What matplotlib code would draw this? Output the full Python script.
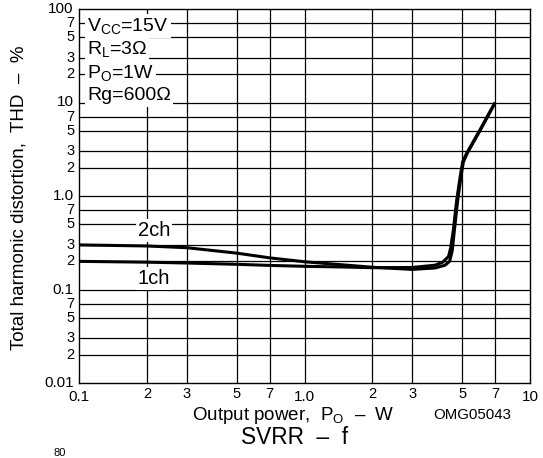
import matplotlib
matplotlib.use("Agg")
import matplotlib.pyplot as plt
from matplotlib.ticker import NullFormatter, NullLocator

plt.rcParams['font.family'] = ['Liberation Sans', 'DejaVu Sans']
plt.rcParams['mathtext.fontset'] = 'custom'
plt.rcParams['mathtext.rm'] = 'Liberation Sans'
plt.rcParams['mathtext.it'] = 'Liberation Sans:italic'

# curve data (Po in W, THD in %)
po_1ch = [0.1, 0.2, 0.3, 0.5, 0.7, 1.0, 1.5, 2.0, 3.0, 3.8, 4.1, 4.35, 4.45,
          4.57, 4.73, 4.9, 5.03, 5.24, 6.0, 7.0]
thd_1ch = [0.200, 0.196, 0.192, 0.186, 0.181, 0.177, 0.174, 0.171, 0.172,
           0.182, 0.196, 0.225, 0.28, 0.43, 0.9, 1.6, 2.33, 2.87, 5.1, 10.0]
po_2ch = [0.1, 0.2, 0.3, 0.5, 0.7, 1.0, 1.5, 2.0, 3.0, 3.8, 4.2, 4.4, 4.52,
          4.63, 4.78, 4.93, 5.06, 5.26, 6.0, 7.0]
thd_2ch = [0.30, 0.292, 0.28, 0.245, 0.218, 0.198, 0.183, 0.173, 0.164,
           0.170, 0.182, 0.2, 0.26, 0.45, 0.9, 1.55, 2.3, 2.85, 5.0, 9.9]

x_major = [0.1, 1.0, 10]
x_major_labels = ["0.1", "1.0", "10"]
x_minor = [0.2, 0.3, 0.5, 0.7, 2, 3, 5, 7]
x_minor_labels = ["2", "3", "5", "7", "2", "3", "5", "7"]
y_major = [0.01, 0.1, 1.0, 10, 100]
y_major_labels = ["0.01", "0.1", "1.0", "10", "100"]
y_minor = [m * d for d in [0.01, 0.1, 1, 10] for m in (2, 3, 5, 7)]
y_minor_labels = ["2", "3", "5", "7"] * 4

conditions = [r"V$_{\mathrm{CC}}$=15V", r"R$_{\mathrm{L}}$=3Ω",
              r"P$_{\mathrm{O}}$=1W", "Rg=600Ω"]

fig = plt.figure(figsize=(5.43, 4.58), dpi=100)
ax = fig.add_axes([79 / 543, 1 - 383 / 458, 451 / 543, 374 / 458])
ax.set_xscale('log')
ax.set_yscale('log')
ax.set_xlim(0.1, 10)
ax.set_ylim(0.01, 100)

# grid
for v in x_minor + [1.0]:
    ax.axvline(v, color='black', lw=0.9, zorder=1)
for v in y_minor + [0.1, 1.0, 10]:
    ax.axhline(v, color='black', lw=0.9, zorder=1)
for s in ax.spines.values():
    s.set_linewidth(1.0)

ax.xaxis.set_major_locator(NullLocator())
ax.xaxis.set_minor_locator(NullLocator())
ax.yaxis.set_major_locator(NullLocator())
ax.yaxis.set_minor_locator(NullLocator())
ax.xaxis.set_major_formatter(NullFormatter())
ax.yaxis.set_major_formatter(NullFormatter())

# tick labels drawn as text
tr_x = ax.get_xaxis_transform()
tr_y = ax.get_yaxis_transform()
for v, t in zip(x_major, x_major_labels):
    ax.text(v, -0.02, t, transform=tr_x, ha='center', va='top', fontsize=11)
for v, t in zip(x_minor, x_minor_labels):
    ax.text(v, -0.01, t, transform=tr_x, ha='center', va='top', fontsize=10.5)
for v, t in zip(y_major, y_major_labels):
    ax.text(-0.012, v, t, transform=tr_y, ha='right', va='center', fontsize=11)
for v, t in zip(y_minor, y_minor_labels):
    ax.text(-0.01, v, t, transform=tr_y, ha='right', va='center', fontsize=10.5)

ax.plot(po_1ch, thd_1ch, color='black', lw=2.2, zorder=3, solid_capstyle='butt')
ax.plot(po_2ch, thd_2ch, color='black', lw=2.2, zorder=3, solid_capstyle='butt')

box = dict(facecolor='white', edgecolor='none', pad=1.5)
ax.text(0.215, 0.43, "2ch", fontsize=14.5, ha='center', va='center', bbox=box, zorder=4)
ax.text(0.215, 0.13, "1ch", fontsize=14.5, ha='center', va='center', bbox=box, zorder=4)

for i, t in enumerate(conditions):
    fig.text(87 / 543, 1 - (26 + 23.3 * i) / 458, t, fontsize=14, ha='left',
             va='center', bbox=box, zorder=5)

fig.text(19 / 543, 1 - 198 / 458, "Total harmonic distortion,  THD  –  %",
         rotation=90, ha='center', va='center', fontsize=13.5)
fig.text(293 / 543, 1 - 416 / 458, r"Output power,  P$_{\mathrm{O}}$  –  W",
         ha='center', va='center', fontsize=13.5)
fig.text(472 / 543, 1 - 415 / 458, "OMG05043", ha='center', va='center', fontsize=10.8)
fig.text(295 / 543, 1 - 437 / 458, "SVRR  –  f", ha='center', va='center', fontsize=16.3)
fig.text(60 / 543, 0.0, "80", ha='center', va='bottom', fontsize=8)

fig.savefig("out.png", dpi=100)
